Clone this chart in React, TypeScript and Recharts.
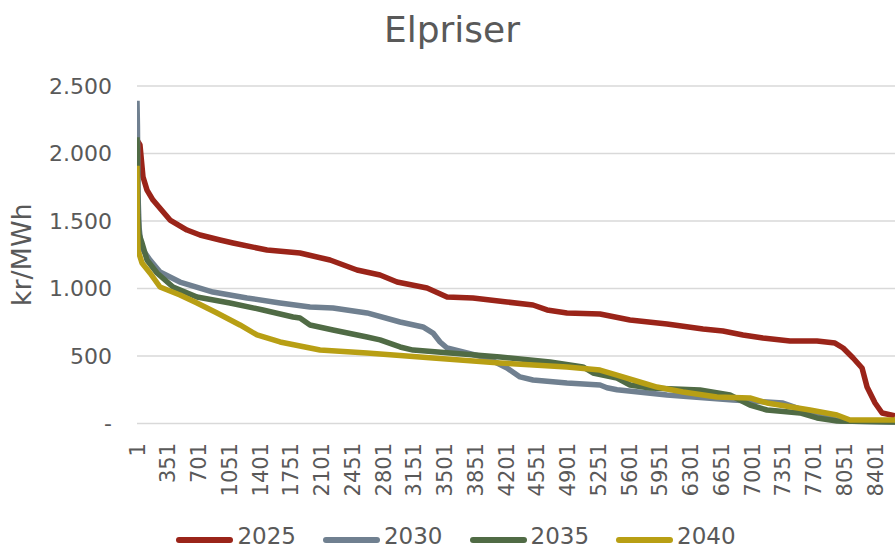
import React from "react";
import { LineChart, Line, XAxis, YAxis, CartesianGrid, Legend } from "recharts";

// timer i varighedskurven (sorteret) og aflæste priser i kr/MWh
const hours2025 = [1, 35, 69, 115, 183, 377, 570, 718, 946, 1094, 1481, 1856, 2198, 2505, 2767, 2961, 3302, 3530, 3825, 4212, 4508, 4668, 4895, 5271, 5385, 5612, 6033, 6443, 6670, 6898, 7125, 7433, 7740, 7945, 8037, 8151, 8253, 8310, 8401, 8481, 8628];
const values2025 = [2100, 2063, 1828, 1729, 1655, 1507, 1433, 1396, 1359, 1337, 1285, 1263, 1211, 1137, 1100, 1048, 1004, 937, 930, 900, 878, 841, 819, 811, 796, 767, 737, 700, 685, 656, 633, 611, 611, 596, 559, 485, 411, 270, 152, 78, 56];

const hours2030 = [1, 6, 12, 25, 40, 69, 149, 263, 490, 866, 1253, 1629, 1970, 2232, 2619, 2995, 3256, 3370, 3450, 3530, 3757, 3985, 4212, 4360, 4508, 4895, 5271, 5350, 5464, 6033, 6784, 7171, 7353, 7581, 7809, 8003, 8628];
const values2030 = [2390, 2200, 1700, 1450, 1360, 1285, 1211, 1122, 1048, 974, 930, 893, 863, 856, 819, 752, 715, 670, 604, 559, 522, 485, 411, 345, 322, 300, 285, 265, 250, 211, 174, 159, 152, 100, 48, 19, 11];

const hours2035 = [1, 6, 12, 25, 58, 115, 229, 411, 684, 1059, 1435, 1777, 1856, 1970, 2232, 2619, 2767, 2995, 3143, 3564, 4133, 4702, 5077, 5191, 5464, 5612, 5840, 6409, 6750, 6977, 7171, 7547, 7740, 7968, 8628];
const values2035 = [2120, 1950, 1550, 1400, 1337, 1211, 1115, 1011, 937, 893, 841, 789, 781, 730, 693, 641, 619, 567, 544, 522, 493, 456, 419, 374, 337, 285, 263, 248, 211, 137, 100, 78, 41, 19, 11];

const hours2040 = [1, 5, 12, 58, 149, 263, 490, 684, 912, 1173, 1367, 1629, 1970, 2084, 2619, 3370, 4133, 4895, 5271, 5464, 5760, 5919, 6215, 6602, 6977, 7171, 7661, 7968, 8117, 8628];
const values2040 = [1910, 1500, 1285, 1189, 1115, 1011, 952, 893, 819, 730, 656, 604, 559, 544, 522, 485, 448, 419, 396, 359, 300, 270, 233, 196, 189, 152, 100, 63, 26, 26];

const xTicks = [1, 351, 701, 1051, 1401, 1751, 2101, 2451, 2801, 3151, 3501, 3851, 4201, 4551, 4901, 5251, 5601, 5951, 6301, 6651, 7001, 7351, 7701, 8051, 8401];
const yTicks = [0, 500, 1000, 1500, 2000, 2500];

const series = [
  { name: "2025", hours: hours2025, values: values2025, color: "#9A2419" },
  { name: "2030", hours: hours2030, values: values2030, color: "#708090" },
  { name: "2035", hours: hours2035, values: values2035, color: "#506B45" },
  { name: "2040", hours: hours2040, values: values2040, color: "#B89F14" },
];

const FONT = "'DejaVu Sans', sans-serif";
const TEXT = "#595959";

const fmt = (v: number) => (v === 0 ? "-" : String(v).replace(/\B(?=(\d{3})+(?!\d))/g, "."));

const XTick = ({ x, y, payload }: any) => {
  const ty = y + 19.5;
  return (
    <text
      x={x}
      y={ty}
      dy="0.36em"
      textAnchor="end"
      transform={`rotate(-90, ${x}, ${ty})`}
      fill={TEXT}
      fontSize={21}
      fontFamily={FONT}
    >
      {payload.value}
    </text>
  );
};

const YTick = ({ x, y, payload }: any) => (
  <text x={x} y={y} dy="0.36em" textAnchor="end" fill={TEXT} fontSize={22} fontFamily={FONT}>
    {fmt(payload.value)}
  </text>
);

const LegendRow = () => (
  <div
    style={{
      display: "flex",
      justifyContent: "center",
      alignItems: "center",
      height: 26,
      paddingLeft: 17,
      fontFamily: FONT,
      fontSize: 23,
      color: TEXT,
      lineHeight: "26px",
    }}
  >
    {series.map((s, i) => (
      <div key={s.name} style={{ display: "flex", alignItems: "center", marginRight: i < series.length - 1 ? 27 : 0 }}>
        <svg width={57} height={8} style={{ position: "relative", top: 4 }}>
          <line x1={3} y1={4} x2={54} y2={4} stroke={s.color} strokeWidth={6} strokeLinecap="round" />
        </svg>
        <span style={{ marginLeft: 4 }}>{s.name}</span>
      </div>
    ))}
  </div>
);

export default function App() {
  return (
    <div style={{ position: "absolute", left: 0, top: 0, width: 895, height: 550, overflow: "hidden", background: "#fff" }}>
      <div
        style={{
          position: "absolute",
          left: 452,
          top: 12,
          transform: "translateX(-50%)",
          fontFamily: FONT,
          fontSize: 36,
          lineHeight: 1,
          color: TEXT,
          whiteSpace: "nowrap",
        }}
      >
        Elpriser
      </div>
      <LineChart width={895} height={550} margin={{ top: 86, right: 0, bottom: 0, left: 0 }}>
        <CartesianGrid vertical={false} stroke="#d9d9d9" strokeWidth={1.3} />
        <XAxis
          type="number"
          dataKey="h"
          domain={[1, 8628]}
          allowDataOverflow
          ticks={xTicks}
          interval={0}
          height={126.5}
          tickLine={false}
          axisLine={false}
          tickSize={0}
          tickMargin={0}
          tick={<XTick />}
        />
        <YAxis
          type="number"
          domain={[0, 2500]}
          ticks={yTicks}
          width={137}
          tickLine={false}
          axisLine={false}
          tickSize={0}
          tickMargin={25}
          tick={<YTick />}
          label={(props: any) => {
            const vb = props.viewBox || { x: 0, y: 86, width: 137, height: 337.5 };
            const cy = vb.y + vb.height / 2;
            return (
              <text
                x={31}
                y={cy}
                textAnchor="middle"
                transform={`rotate(-90, 31, ${cy})`}
                fill={TEXT}
                fontSize={27}
                fontFamily={FONT}
              >
                kr/MWh
              </text>
            );
          }}
        />
        {series.map((s) => (
          <Line
            key={s.name}
            name={s.name}
            data={s.hours.map((h, i) => ({ h, v: s.values[i] }))}
            dataKey="v"
            type="linear"
            stroke={s.color}
            strokeWidth={5.5}
            strokeLinejoin="round"
            dot={false}
            activeDot={false}
            isAnimationActive={false}
          />
        ))}
        <Legend
          layout="horizontal"
          verticalAlign="middle"
          align="center"
          content={<LegendRow />}
          wrapperStyle={{ top: 523, left: 0, width: 895 }}
        />
      </LineChart>
    </div>
  );
}
